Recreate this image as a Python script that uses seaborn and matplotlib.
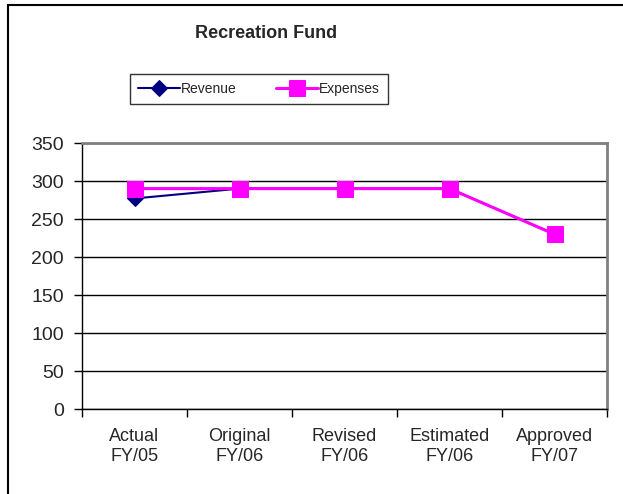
import numpy as np
import pandas as pd
import matplotlib
matplotlib.use("Agg")
import matplotlib.pyplot as plt
import seaborn as sns
from matplotlib.patches import Rectangle

# chart data
categories = ["Actual\nFY/05", "Original\nFY/06", "Revised\nFY/06", "Estimated\nFY/06", "Approved\nFY/07"]
revenue = [277, 290, 290, 290, 230]
expenses = [290, 290, 290, 290, 230]

sns.set_style("white")
plt.rcParams['font.family'] = ['Liberation Sans', 'DejaVu Sans']

df = pd.DataFrame({
    "pos": list(range(len(categories))) * 2,
    "value": revenue + expenses,
    "series": ["Revenue"] * len(revenue) + ["Expenses"] * len(expenses),
})

fig = plt.figure(figsize=(6.23, 4.94), dpi=100)
ax = fig.add_axes([82 / 623, 1 - 409 / 494, 525 / 623, 266 / 494])

# outer chart border
fig.patches.append(Rectangle((7.5 / 623, -0.05), 1.1, 1 - 4.5 / 494 + 0.05,
                             transform=fig.transFigure, fill=False,
                             edgecolor="black", linewidth=1.5))

sns.lineplot(data=df[df.series == "Revenue"], x="pos", y="value", ax=ax,
             color="#000080", marker="D", markersize=8, linewidth=1.5,
             markeredgecolor="#000080", label="Revenue")
sns.lineplot(data=df[df.series == "Expenses"], x="pos", y="value", ax=ax,
             color="#FF00FF", marker="s", markersize=11, linewidth=2.2,
             markeredgecolor="#FF00FF", label="Expenses")

ax.set_xlim(-0.5, len(categories) - 0.5)
ax.set_ylim(0, 350)
ax.set_yticks(np.arange(0, 351, 50))
ax.set_xticks(np.arange(-0.5, len(categories), 1.0))
ax.set_xticklabels([])
ax.set_xticks(range(len(categories)), minor=True)
ax.set_xticklabels(categories, minor=True)
ax.tick_params(axis="x", which="major", direction="out", length=6, width=1, color="black")
ax.tick_params(axis="x", which="minor", length=0, pad=14, labelsize=13)
ax.tick_params(axis="y", direction="out", length=6, width=1, color="black", labelsize=14, pad=7)
ax.tick_params(bottom=True, left=True)
ax.set_xlabel("")
ax.set_ylabel("")

ax.yaxis.grid(True, color="black", linewidth=1)
ax.set_axisbelow(True)
for s in ["top", "right"]:
    ax.spines[s].set_color("#808080")
    ax.spines[s].set_linewidth(2)
for s in ["left", "bottom"]:
    ax.spines[s].set_color("black")
    ax.spines[s].set_linewidth(1)

ax.get_legend().remove()
handles, labels = ax.get_legend_handles_labels()
leg = fig.legend(handles, labels, loc="center", ncol=2,
                 bbox_to_anchor=(259 / 623, 1 - 89 / 494), fontsize=10,
                 frameon=True, fancybox=False, edgecolor="black",
                 handlelength=3, handletextpad=0.1, columnspacing=2.8,
                 borderpad=0.6)
leg.get_frame().set_linewidth(1)

fig.text(266 / 623, 1 - 33 / 494, "Recreation Fund", ha="center", va="center",
         fontsize=13, fontweight="bold")

fig.savefig("out.png", dpi=100)
